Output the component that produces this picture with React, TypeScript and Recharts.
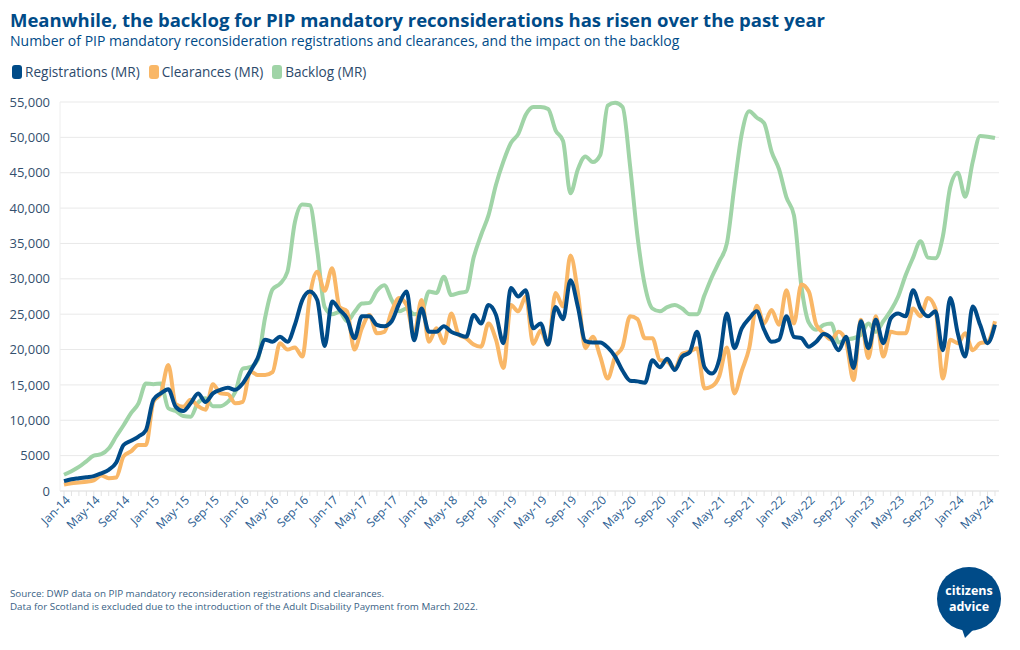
import React from 'react';
import { LineChart, Line, XAxis, YAxis, CartesianGrid } from 'recharts';

const MONTH_NAMES = ['Jan', 'Feb', 'Mar', 'Apr', 'May', 'Jun', 'Jul', 'Aug', 'Sep', 'Oct', 'Nov', 'Dec'];
const YEARS = ['14', '15', '16', '17', '18', '19', '20', '21', '22', '23', '24'];
const MONTH_COUNT = 126; // Jan-14 .. Jun-24

const CATEGORIES: string[] = [];
for (let i = 0; i < MONTH_COUNT; i++) {
  CATEGORIES.push(`${MONTH_NAMES[i % 12]}-${YEARS[Math.floor(i / 12)]}`);
}

const REGISTRATIONS = [
  1400, 1650, 1800, 1950, 2100, 2500, 3000, 4000, 6500, 7100, 7700, 8600,
  12900, 13800, 14400, 11900, 11300, 12400, 13800, 12600, 13800, 14300, 14600, 14300,
  15200, 16900, 18800, 21400, 21100, 21800, 21100, 23500, 27000, 28200, 27000, 20500,
  26800, 25600, 24400, 21600, 24700, 24700, 23500, 23300, 24000, 26500, 28200, 21300,
  25800, 22500, 22500, 23300, 22500, 22100, 21800, 24900, 23700, 26300, 24900, 20900,
  28700, 27500, 28400, 23000, 23700, 20700, 26000, 24300, 29800, 26000, 21200, 21000,
  21000, 20300, 19000, 17000, 15600, 15500, 15300, 18500, 17500, 18700, 17100, 19000,
  19600, 22500, 17500, 16600, 18700, 25100, 20200, 23000, 24400, 25400, 22800, 21100,
  21400, 24700, 21800, 21600, 20400, 21100, 22200, 21600, 19900, 21800, 17400, 24000,
  20200, 24200, 20900, 24400, 25100, 24700, 28400, 25800, 24700, 25400, 19900, 27300,
  22300, 19000, 26100, 23500, 20900, 23500,
];

const CLEARANCES = [
  900, 1100, 1200, 1300, 1500, 2200, 1800, 1900, 4900, 5600, 6500, 6500,
  12600, 13800, 17800, 12300, 11900, 12900, 12000, 11500, 15100, 13800, 13700, 12400,
  12600, 16900, 16400, 16400, 16800, 20900, 20000, 20300, 19000, 27500, 31000, 28300,
  31500, 26000, 25400, 20000, 23000, 24900, 22300, 22500, 25400, 27300, 26300, 22100,
  27000, 21100, 23000, 20900, 25100, 22100, 21600, 20700, 20400, 23700, 21400, 17400,
  26300, 25400, 27500, 20800, 22700, 20700, 28000, 26100, 33300, 28000, 20200, 21800,
  19000, 15900, 19000, 20400, 24700, 24300, 21600, 21600, 18500, 18300, 17300, 19400,
  19700, 20200, 14500, 14800, 16300, 20300, 13800, 17000, 20200, 26200, 23700, 25600,
  23500, 28400, 23700, 29200, 28200, 23500, 22300, 21400, 22500, 21100, 15700, 24200,
  18800, 24700, 19000, 22500, 22300, 22300, 25800, 24700, 27300, 25800, 15900, 21400,
  20900, 22300, 19900, 20900, 21100, 24000,
];

const BACKLOG = [
  2300, 2800, 3400, 4200, 5000, 5200, 6000, 7700, 9300, 11000, 12400, 15200,
  15100, 15200, 11700, 11300, 10600, 10500, 12500, 13100, 12000, 12000, 12600, 14000,
  17300, 17500, 18500, 24500, 28500, 29300, 31000, 38000, 40500, 40400, 34000, 26000,
  25000, 25300, 24000, 25300, 26500, 26600, 28300, 29100, 27000, 25400, 25800, 25000,
  25200, 28200, 28000, 30300, 27700, 28000, 28200, 33000, 36200, 39000, 43300, 46600,
  49200, 50500, 53200, 54300, 54300, 54000, 51000, 49500, 42100, 45500, 47300, 46500,
  47500, 54500, 54900, 54300, 46000, 36000, 29000, 25800, 25400, 26000, 26300, 25800,
  25000, 25000, 27700, 30300, 32500, 35000, 43000, 50500, 53700, 52800, 52000, 48000,
  45500, 41500, 39000, 29000, 23800, 22800, 23500, 23700, 21000, 21400, 21600, 22100,
  23700, 22500, 24000, 25500, 27500, 30500, 33000, 35300, 33000, 32900, 36000, 43000,
  45000, 41600, 46500, 50200, 50100, 49900,
];

const Y_TICKS = [0, 5000, 10000, 15000, 20000, 25000, 30000, 35000, 40000, 45000, 50000, 55000];
const LABEL_EVERY = 4;

const SERIES = [
  { key: 'backlog', name: 'Backlog (MR)', color: '#a0d4a7' },
  { key: 'clearances', name: 'Clearances (MR)', color: '#f9b767' },
  { key: 'registrations', name: 'Registrations (MR)', color: '#004b88' },
];
const LEGEND_ORDER = ['registrations', 'clearances', 'backlog'];

const data = CATEGORIES.map((month, i) => ({
  month,
  registrations: REGISTRATIONS[i],
  clearances: CLEARANCES[i],
  backlog: BACKLOG[i],
}));

const FONT = '"Open Sans", "Noto Sans", sans-serif';
const DARK_BLUE = '#004b88';

const formatY = (v: number) => (v >= 10000 ? v.toLocaleString('en-GB') : String(v));

const MonthTick = (props: any) => {
  const { x, y, payload } = props;
  const idx = CATEGORIES.indexOf(payload.value);
  if (idx % LABEL_EVERY !== 0) return <g />;
  return (
    <text
      x={x + 4}
      y={y}
      dy={4}
      transform={`rotate(-45 ${x + 4} ${y})`}
      textAnchor="end"
      fontSize={12}
      fontFamily={FONT}
      fill="#2b5d91"
    >
      {payload.value}
    </text>
  );
};

const Logo = () => (
  <svg width={90} height={90} style={{ position: 'absolute', left: 925, top: 556 }}>
    <circle cx={44} cy={43} r={32} fill={DARK_BLUE} />
    <path d="M36 70 L40 82 L50 72 Z" fill={DARK_BLUE} />
    <text x={44} y={39} textAnchor="middle" fontSize={12.5} fontWeight={700} fill="#fff" fontFamily={FONT}>
      citizens
    </text>
    <text x={44} y={55} textAnchor="middle" fontSize={12.5} fontWeight={700} fill="#fff" fontFamily={FONT}>
      advice
    </text>
  </svg>
);

export default function App() {
  return (
    <div
      style={{
        position: 'fixed',
        left: 0,
        top: 0,
        width: 1020,
        height: 650,
        background: '#fff',
        fontFamily: FONT,
        overflow: 'hidden',
      }}
    >
      <div style={{ position: 'absolute', left: 10, top: 8, fontSize: 18.5, fontWeight: 700, color: DARK_BLUE, whiteSpace: 'nowrap', lineHeight: '24px' }}>
        Meanwhile, the backlog for PIP mandatory reconsiderations has risen over the past year
      </div>
      <div style={{ position: 'absolute', left: 10, top: 31, fontSize: 14, color: DARK_BLUE, whiteSpace: 'nowrap', lineHeight: '20px' }}>
        Number of PIP mandatory reconsideration registrations and clearances, and the impact on the backlog
      </div>

      <div style={{ position: 'absolute', left: 12, top: 62, display: 'flex', alignItems: 'center', fontSize: 13.6, color: '#2d4a6b', lineHeight: '20px' }}>
        {LEGEND_ORDER.map((k) => {
          const s = SERIES.find((x) => x.key === k)!;
          return (
            <div key={k} style={{ display: 'flex', alignItems: 'center', marginRight: 9 }}>
              <div style={{ width: 10, height: 14, borderRadius: 3, background: s.color, marginRight: 3 }} />
              <span>{s.name}</span>
            </div>
          );
        })}
      </div>

      <div style={{ position: 'absolute', left: 0, top: 90 }}>
        <LineChart width={1020} height={461} data={data} margin={{ top: 12, right: 21, bottom: 0, left: 0 }}>
          <CartesianGrid vertical={false} stroke="#e9e9e9" />
          <XAxis
            dataKey="month"
            interval={0}
            height={60}
            padding={{ left: 4, right: 4 }}
            tickSize={5}
            tickLine={{ stroke: '#e3e3e3' }}
            axisLine={{ stroke: '#e6e6e6' }}
            tick={<MonthTick />}
          />
          <YAxis
            width={60}
            domain={[0, 55000]}
            ticks={Y_TICKS}
            interval={0}
            tickFormatter={formatY}
            tickLine={false}
            tickMargin={4}
            axisLine={{ stroke: '#eeeeee' }}
            tick={{ fontSize: 13, fill: '#34506e', fontFamily: FONT }}
          />
          {SERIES.map((s) => (
            <Line
              key={s.key}
              type="monotone"
              dataKey={s.key}
              name={s.name}
              stroke={s.color}
              strokeWidth={4}
              dot={false}
              activeDot={false}
              isAnimationActive={false}
            />
          ))}
        </LineChart>
      </div>

      <div style={{ position: 'absolute', left: 10, top: 587, fontSize: 9.8, color: '#3a5f85', lineHeight: '13px' }}>
        <div>Source: DWP data on PIP mandatory reconsideration registrations and clearances.</div>
        <div>Data for Scotland is excluded due to the introduction of the Adult Disability Payment from March 2022.</div>
      </div>

      <Logo />
    </div>
  );
}
